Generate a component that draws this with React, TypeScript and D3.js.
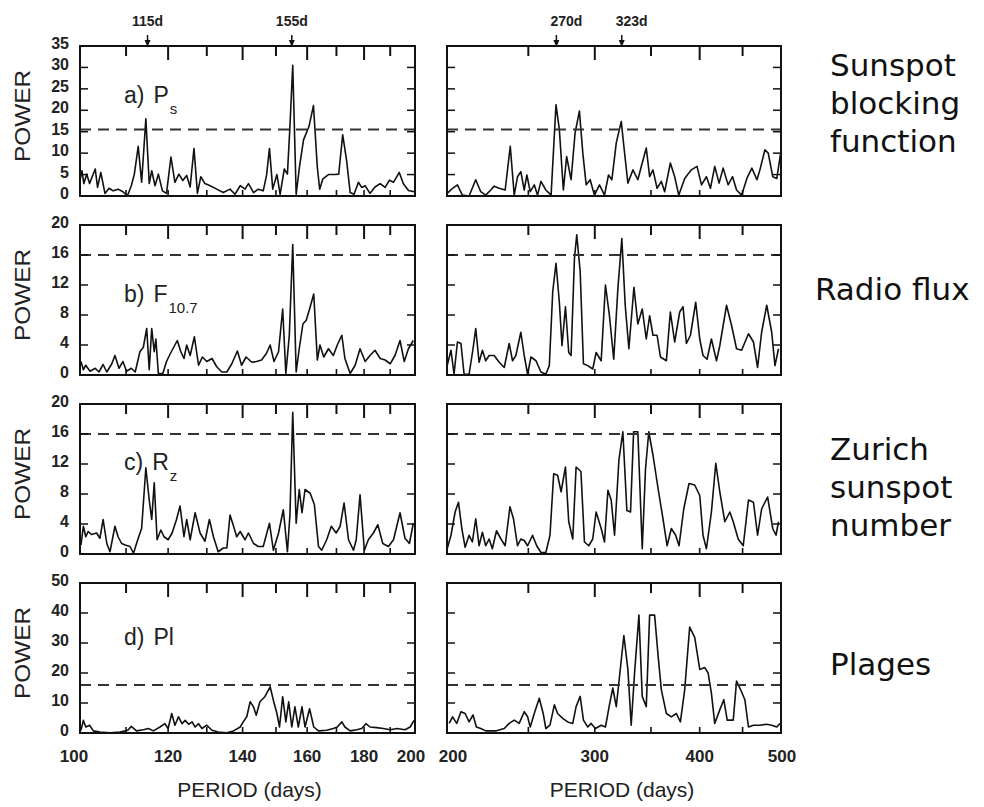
import React from 'react';
import * as d3 from 'd3';

// ---------- DATA (period in days, power) ----------
const psShort: [number, number][] = [[100.0,3.6],[100.4,5.9],[100.8,2.9],[101.4,5.1],[102.0,2.9],[103.2,6.3],[103.7,2.0],[104.4,5.5],[105.3,0.6],[106.2,1.8],[107.1,1.2],[108.2,1.6],[109.3,1.0],[110.3,0],[111.2,2.4],[111.9,5.1],[112.8,11.6],[113.6,3.2],[114.6,18.0],[115.4,2.9],[116.0,5.9],[116.8,2.4],[117.6,5.1],[118.6,1.2],[119.6,0.6],[120.7,9.1],[121.7,3.2],[122.7,5.1],[123.7,3.6],[124.7,4.8],[125.6,2.1],[126.6,11.1],[127.5,0.6],[128.4,4.5],[129.5,2.9],[130.9,2.4],[132.7,1.6],[134.5,0.8],[136.4,1.6],[137.8,0.4],[139.3,2.4],[140.7,1.6],[141.7,2.9],[143.2,0.8],[144.6,1.6],[146.1,1.2],[147.1,4.8],[148.0,11.1],[149.0,1.6],[150.3,5.0],[151.3,0.4],[152.6,6.3],[153.6,5.1],[154.4,16.2],[155.3,30.5],[156.4,0.4],[157.5,6.9],[158.8,13.1],[160.6,16.2],[162.1,21.1],[163.4,6.7],[164.2,1.6],[165.3,4.0],[167.2,5.0],[169.5,5.0],[170.8,5.1],[172.2,14.3],[173.6,8.3],[174.9,0.8],[176.3,0.4],[177.9,3.2],[179.1,2.0],[180.4,2.4],[182.2,0.6],[184.1,2.1],[186.1,2.9],[188.0,2.0],[189.7,3.7],[191.3,3.2],[193.6,5.5],[195.2,2.9],[197.3,1.3],[199.7,1.0]];

const psLong: [number, number][] = [[200.1,0.6],[203.1,1.8],[205.8,2.6],[208.6,0.2],[212.5,0],[216.4,3.8],[219.4,1.0],[222.4,0.2],[225.5,1.4],[227.6,2.3],[230.8,1.8],[234.6,1.4],[237.9,11.6],[240.5,0.2],[242.7,4.5],[244.9,5.7],[247.2,1.4],[249.0,4.9],[251.3,1.0],[254.1,2.6],[256.4,0.2],[258.8,3.4],[262.3,1.4],[266.1,0.2],[269.7,21.3],[272.2,15.5],[275.2,1.4],[277.7,9.2],[281.1,3.8],[284.2,14.7],[287.6,19.8],[290.3,10.0],[293.0,2.6],[296.2,3.8],[299.7,0.2],[303.9,2.6],[308.1,0.2],[311.5,4.9],[314.4,3.8],[318.2,12.4],[322.6,17.4],[324.9,11.6],[328.5,3.0],[333.1,6.1],[337.6,3.8],[340.8,6.9],[345.5,11.2],[348.7,4.5],[351.9,6.1],[355.9,1.8],[360.1,3.4],[363.4,1.0],[369.1,7.7],[373.5,4.5],[377.7,0.2],[383.9,4.1],[391.0,6.1],[397.1,6.9],[402.0,2.6],[407.5,4.5],[412.0,1.8],[416.9,6.9],[421.9,3.0],[426.6,6.5],[432.5,2.6],[437.8,4.5],[442.6,1.4],[448.8,0.2],[455.3,4.1],[461.6,6.5],[468.1,3.8],[471.9,6.1],[478.4,10.8],[482.8,10.0],[488.8,4.5],[494.3,4.1],[499.5,10.0]];

const fShort: [number, number][] = [[100.2,1.8],[100.7,0.7],[101.2,1.3],[102.1,0.5],[103.2,0.9],[104.0,0.4],[104.9,1.4],[105.7,0.4],[106.8,1.5],[107.5,2.6],[108.4,0.9],[109.3,1.8],[110.1,0.5],[111.2,0.9],[112.1,0.4],[113.2,3.1],[114.0,3.7],[114.8,6.2],[115.4,0.7],[116.0,6.2],[116.6,3.1],[117.0,4.8],[117.6,0.2],[118.7,0.2],[119.6,1.8],[120.6,2.9],[122.3,4.6],[123.2,3.1],[124.0,2.2],[124.7,4.0],[125.6,2.6],[126.7,5.1],[127.8,1.3],[128.8,2.4],[130.0,1.8],[131.4,2.2],[132.7,1.1],[134.1,0.4],[135.5,0.4],[136.9,1.5],[138.5,3.2],[139.7,1.3],[141.0,2.4],[142.7,1.7],[144.1,1.8],[145.6,2.0],[147.1,2.9],[148.2,4.0],[149.4,1.8],[150.8,3.1],[152.1,8.8],[153.1,0.2],[154.2,5.3],[155.3,17.4],[156.4,0.4],[157.4,3.5],[158.6,6.8],[159.7,7.3],[160.8,8.8],[162.2,10.8],[163.4,2.0],[164.3,4.0],[165.6,2.4],[167.2,3.5],[168.9,2.6],[170.3,4.0],[171.9,5.3],[173.0,2.2],[174.9,0.2],[176.7,1.3],[178.5,3.5],[180.4,1.8],[182.2,2.6],[184.1,3.3],[186.1,2.2],[188.0,2.0],[190.0,1.5],[191.9,2.6],[193.9,4.6],[195.6,1.8],[197.3,3.5],[199.3,4.6]];

const fLong: [number, number][] = [[200.1,1.25],[202.2,3.3],[203.9,0.1],[205.8,4.4],[207.8,4.2],[209.6,0.1],[212.5,0.1],[214.8,3.5],[216.4,6.2],[218.4,1.7],[220.4,3.3],[222.4,1.9],[224.5,2.6],[227.6,2.6],[230.8,1.7],[234.0,1.0],[237.2,4.2],[239.4,1.9],[241.6,2.6],[244.9,5.7],[247.2,2.6],[249.5,0.1],[251.8,2.4],[255.3,1.9],[258.8,0.4],[262.3,0.1],[264.8,1.25],[267.3,11.1],[269.7,14.9],[272.2,9.7],[274.2,3.9],[276.8,9.1],[279.3,3.0],[281.1,2.6],[283.7,15.5],[285.5,18.7],[288.2,13.8],[290.8,1.5],[294.3,1.25],[298.3,0.8],[301.1,3.0],[305.3,1.9],[308.9,12.0],[312.3,7.9],[316.0,2.1],[319.6,11.5],[323.1,18.2],[326.1,9.3],[329.4,3.5],[334.0,11.7],[337.6,6.8],[341.7,8.8],[345.5,4.8],[348.7,7.9],[351.9,5.3],[355.9,5.3],[359.2,2.4],[365.1,1.9],[369.1,8.4],[373.5,4.4],[378.7,8.4],[382.2,9.1],[385.7,4.2],[390.0,5.3],[395.7,9.7],[400.1,4.8],[403.7,2.6],[408.2,2.1],[413.1,4.8],[418.9,1.9],[422.7,3.9],[430.6,9.3],[436.6,6.6],[442.6,3.5],[448.8,3.3],[457.3,5.5],[463.6,4.4],[468.9,1.0],[474.1,5.7],[480.8,9.3],[487.4,5.7],[491.8,1.25],[496.6,3.5]];

const rShort: [number, number][] = [[100.2,1.2],[100.7,3.7],[101.2,2.3],[101.7,3.0],[102.4,2.6],[103.5,2.8],[104.2,2.1],[104.9,4.6],[105.7,1.4],[106.4,0.3],[107.5,3.7],[108.2,2.3],[109.0,1.4],[109.8,1.2],[110.9,1.0],[111.7,0.1],[112.8,2.1],[113.6,3.4],[114.6,11.5],[115.4,7.2],[116.0,4.6],[116.6,9.5],[117.3,1.9],[118.2,3.2],[119.0,2.3],[120.0,1.9],[121.0,2.8],[122.1,4.6],[123.0,6.4],[124.0,2.3],[124.7,4.6],[125.6,1.9],[126.9,5.5],[128.2,2.8],[129.5,1.7],[130.7,4.6],[131.8,2.3],[133.1,0.3],[134.5,0.8],[135.5,0.8],[136.4,5.2],[137.4,3.7],[138.3,2.3],[139.3,3.0],[140.7,1.9],[141.7,2.8],[143.2,1.4],[144.6,1.0],[146.1,1.0],[148.0,4.1],[149.2,0.5],[150.8,2.8],[152.3,5.9],[153.6,0.3],[154.4,5.2],[155.3,18.9],[156.4,4.1],[157.4,8.6],[158.3,5.5],[159.3,8.6],[161.0,8.1],[162.4,6.6],[163.8,1.0],[164.9,0.5],[166.6,1.9],[168.2,3.7],[169.9,2.8],[171.3,3.7],[172.7,6.8],[174.3,1.9],[176.1,0.5],[177.1,1.9],[178.5,7.9],[180.1,0.5],[181.6,1.9],[183.5,2.8],[185.2,3.9],[187.1,1.4],[189.3,1.0],[191.3,1.9],[193.9,5.5],[195.9,2.1],[197.7,1.4],[199.3,4.1]];

const rLong: [number, number][] = [[200.1,0.7],[202.2,2.5],[204.5,5.6],[206.4,6.9],[208.3,3.4],[210.2,0.9],[212.5,2.5],[214.4,1.6],[216.4,4.7],[218.4,1.1],[220.4,2.9],[222.4,1.1],[224.5,2.0],[226.5,0.7],[229.1,3.1],[231.9,2.0],[234.6,1.1],[237.7,6.3],[240.0,4.7],[242.7,1.1],[244.9,2.0],[247.2,1.8],[249.5,1.1],[252.9,2.5],[255.8,1.1],[258.8,0.2],[262.3,0.2],[265.3,2.5],[268.0,10.7],[270.9,10.5],[273.5,8.3],[276.8,11.6],[279.3,4.3],[282.4,2.0],[285.0,11.6],[288.8,11.0],[291.6,1.6],[295.1,1.1],[298.3,2.0],[301.1,5.6],[305.3,3.4],[308.1,1.6],[311.0,8.5],[313.8,7.2],[316.7,2.5],[320.5,12.5],[324.0,16.3],[327.6,5.8],[330.9,5.6],[333.7,16.3],[337.6,16.3],[341.7,0.7],[344.8,11.4],[347.9,16.3],[351.9,13.2],[356.9,8.7],[361.7,4.7],[365.8,1.1],[370.1,3.4],[374.5,2.5],[378.0,1.1],[382.9,6.0],[388.5,9.4],[394.6,9.2],[400.1,7.8],[403.7,2.5],[407.5,0.7],[413.1,5.6],[418.1,12.1],[422.7,8.3],[428.6,4.3],[434.5,5.6],[438.6,4.3],[444.6,2.0],[450.8,1.1],[457.3,7.2],[463.6,6.9],[468.9,2.5],[474.1,6.0],[482.0,7.6],[488.8,3.4],[493.2,2.5],[496.6,4.3]];

const plShort: [number, number][] = [[100.2,0.9],[100.7,4.2],[101.2,2.0],[102.0,2.6],[102.8,0.7],[104.2,0.3],[106.4,0.1],[108.6,0.3],[110.4,0.9],[111.2,2.2],[112.4,0.7],[114.0,1.1],[115.2,1.5],[116.4,0.7],[118.0,2.0],[119.2,3.1],[120.0,1.5],[120.9,6.5],[121.7,2.6],[122.6,5.4],[123.5,3.1],[124.3,4.2],[125.2,2.9],[126.1,3.7],[126.9,2.0],[127.8,3.1],[128.7,1.5],[130.0,2.6],[131.4,0.9],[133.1,0.3],[135.5,0.1],[137.4,0.7],[139.3,2.0],[140.2,3.7],[141.2,5.4],[142.2,10.4],[143.2,8.7],[144.0,5.9],[145.1,10.4],[146.6,12.1],[148.2,15.4],[149.2,10.9],[150.3,6.5],[151.1,2.0],[152.1,12.1],[153.1,3.7],[154.0,10.4],[155.0,2.0],[156.0,8.7],[157.1,2.0],[158.3,8.7],[159.3,2.0],[160.8,8.1],[162.2,2.0],[163.8,0.7],[166.6,0.9],[168.9,1.5],[170.3,2.0],[171.9,3.7],[173.0,2.0],[174.9,0.7],[177.3,1.1],[179.1,1.5],[180.7,3.1],[182.2,2.0],[184.7,1.8],[187.3,1.5],[190.0,1.1],[192.7,1.5],[195.9,1.1],[198.0,2.0],[199.6,4.2]];

const plLong: [number, number][] = [[201.2,3.2],[203.1,5.4],[205.4,3.2],[207.8,7.1],[210.2,6.5],[212.5,3.7],[214.8,6.0],[216.8,2.0],[219.4,1.5],[222.4,0.7],[228.6,0.7],[234.0,1.5],[237.2,3.2],[240.5,4.3],[243.8,3.2],[247.2,7.1],[249.5,5.4],[251.3,2.0],[254.1,6.5],[257.6,11.6],[260.4,6.5],[262.3,1.5],[265.3,2.6],[268.5,9.4],[270.9,6.5],[274.7,4.9],[278.5,3.7],[282.4,3.2],[285.0,8.8],[288.2,12.2],[290.8,4.3],[294.3,2.0],[297.0,3.2],[300.5,1.5],[305.3,2.6],[308.9,2.0],[312.3,9.4],[315.2,15.0],[318.2,8.8],[321.1,19.0],[324.9,32.5],[328.5,21.2],[331.5,2.6],[334.6,20.1],[338.6,39.3],[341.7,12.2],[345.5,8.8],[348.7,39.3],[353.5,39.3],[356.9,25.7],[360.1,14.4],[365.1,6.5],[370.1,5.4],[375.2,6.5],[379.4,3.7],[383.9,14.4],[389.2,35.3],[394.6,31.9],[400.1,21.2],[405.6,21.8],[409.3,20.1],[413.1,13.3],[416.9,3.2],[422.7,7.7],[427.4,11.1],[431.4,4.3],[438.6,4.3],[442.6,17.3],[447.6,14.4],[452.8,11.1],[457.3,2.0],[463.6,2.6],[471.9,2.6],[480.8,2.9],[487.4,2.6],[494.3,2.0],[498.5,3.2]];

const shortSeries = [psShort, fShort, rShort, plShort];
const longSeries = [psLong, fLong, rLong, plLong];
const yMaxes = [35, 20, 20, 50];
const ySteps = [5, 4, 4, 10];
const thresholds = [15.5, 16, 16, 16];
const shortDomain = [100, 200];
const longDomain = [200, 500];
const shortTicks = [110, 120, 130, 140, 150, 160, 170, 180, 190];
const longTicks = [250, 300, 350, 400, 450];
const shortMajor = [120, 140, 160, 180];
const longMajor = [300, 400];
const shortTickLabels = [100, 120, 140, 160, 180, 200];
const longTickLabels = [200, 300, 400, 500];
const shortMarkers = [115, 155];
const longMarkers = [270, 323];
const panelTags = [['a)', 'P', 's'], ['b)', 'F', '10.7'], ['c)', 'R', 'z'], ['d)', 'Pl', '']];
const sideLabels = [['Sunspot', 'blocking', 'function'], ['Radio flux'], ['Zurich', 'sunspot', 'number'], ['Plages']];

// ---------- LAYOUT ----------
const W = 984, H = 807;
const LEFT_RANGE = [80, 415];
const RIGHT_RANGE = [447, 781];
const PANEL_TOPS = [46, 225, 404, 583];
const PANEL_H = 150;
const TAG_BASE = [57, 77, 66, 62];
const SIDE_X = [830, 815, 830, 830];
const SIDE_Y0 = [76, 300, 460, 675];
const SIDE_DY = 38;

const NUMF = "'Liberation Sans', Arial, sans-serif";
const SANS = "'Liberation Sans', Arial, sans-serif";

function Panel({ data, domain, range, top, yMax, yStep, thr, ticks, major, showYLabels }: any) {
  const x = d3.scaleLog().domain(domain).range(range);
  const y = d3.scaleLinear().domain([0, yMax]).range([top + PANEL_H, top]);
  const line = d3.line<[number, number]>().x(d => x(d[0])).y(d => y(d[1]));
  const yTicks = d3.range(0, yMax + 0.001, yStep);
  const [x0, x1] = range;
  return (
    <g>
      <path d={line(data) || ''} fill="none" stroke="#111" strokeWidth={1.6} strokeLinejoin="round" />
      <line x1={x0} x2={x1} y1={y(thr)} y2={y(thr)} stroke="#333" strokeWidth={2} strokeDasharray="11,7" />
      {yTicks.filter(v => v > 0 && v < yMax).map(v => (
        <g key={'yt' + v}>
          <line x1={x0} x2={x0 + 8} y1={y(v)} y2={y(v)} stroke="#111" strokeWidth={1.5} />
          <line x1={x1 - 8} x2={x1} y1={y(v)} y2={y(v)} stroke="#111" strokeWidth={1.5} />
        </g>
      ))}
      {ticks.map((t: number) => {
        const len = major.includes(t) ? 14 : 10;
        return (
          <g key={'xt' + t}>
            <line x1={x(t)} x2={x(t)} y1={top} y2={top + len} stroke="#111" strokeWidth={2} />
            <line x1={x(t)} x2={x(t)} y1={top + PANEL_H} y2={top + PANEL_H - 6} stroke="#111" strokeWidth={1.6} />
          </g>
        );
      })}
      <rect x={x0} y={top} width={x1 - x0} height={PANEL_H} fill="none" stroke="#111" strokeWidth={2} />
      {showYLabels && yTicks.map(v => (
        <text key={'yl' + v} x={x0 - 11} y={y(v) + 3} textAnchor="end" fontFamily={NUMF}
          fontWeight="bold" fontSize={16} fill="#222">{v}</text>
      ))}
    </g>
  );
}

export default function App() {
  const xs = d3.scaleLog().domain(shortDomain).range(LEFT_RANGE);
  const xl = d3.scaleLog().domain(longDomain).range(RIGHT_RANGE);
  const bottom = PANEL_TOPS[3] + PANEL_H;
  const arrow = (px: number, key: string) => (
    <g key={key}>
      <line x1={px} x2={px} y1={35} y2={44} stroke="#111" strokeWidth={1.5} />
      <path d={`M${px - 3},${40} L${px + 3},${40} L${px},${47} Z`} fill="#111" />
    </g>
  );
  const edgeShift = (t: number, dom: number[], lo: number, hi: number) =>
    t === dom[0] ? lo : t === dom[1] ? hi : 0;
  return (
    <svg width={W} height={H} style={{ position: 'absolute', left: 0, top: 0, background: '#fff' }}>
      <rect x={0} y={0} width={W} height={H} fill="#fff" />
      {PANEL_TOPS.map((top, i) => (
        <g key={'p' + i}>
          <Panel data={shortSeries[i]} domain={shortDomain} range={LEFT_RANGE} top={top} yMax={yMaxes[i]}
            yStep={ySteps[i]} thr={thresholds[i]} ticks={shortTicks} major={shortMajor} showYLabels />
          <Panel data={longSeries[i]} domain={longDomain} range={RIGHT_RANGE} top={top} yMax={yMaxes[i]}
            yStep={ySteps[i]} thr={thresholds[i]} ticks={longTicks} major={longMajor} showYLabels={false} />
          <text transform={`translate(30,${top + PANEL_H / 2 - 5}) rotate(-90)`} textAnchor="middle"
            fontFamily={SANS} fontSize={22} textLength={92} lengthAdjust="spacingAndGlyphs" fill="#222">POWER</text>
          <text x={124} y={top + TAG_BASE[i]} fontFamily={SANS} fontSize={23} fill="#222">
            {panelTags[i][0]}
            <tspan dx={9}>{panelTags[i][1]}</tspan>
            {panelTags[i][2] && <tspan dx={1} dy={11} fontSize={15}>{panelTags[i][2]}</tspan>}
          </text>
          {sideLabels[i].map((s, j) => (
            <text key={s} x={SIDE_X[i]} y={SIDE_Y0[i] + j * SIDE_DY} fontFamily="'DejaVu Sans', sans-serif"
              fontSize={31} fill="#111">{s}</text>
          ))}
        </g>
      ))}
      {shortMarkers.map(m => (
        <g key={'ms' + m}>
          {arrow(xs(m), 'as' + m)}
          <text x={xs(m)} y={26} textAnchor="middle" fontFamily={NUMF} fontWeight="bold" fontSize={14} fill="#222">{m}d</text>
        </g>
      ))}
      {longMarkers.map(m => (
        <g key={'ml' + m}>
          {arrow(xl(m), 'al' + m)}
          <text x={xl(m) + 10} y={26} textAnchor="middle" fontFamily={NUMF} fontWeight="bold" fontSize={14} fill="#222">{m}d</text>
        </g>
      ))}
      {shortTickLabels.map(t => (
        <text key={'sl' + t} x={xs(t) + edgeShift(t, shortDomain, -6, -4)} y={bottom + 29} textAnchor="middle" fontFamily={NUMF}
          fontWeight="bold" fontSize={17} fill="#222">{t}</text>
      ))}
      {longTickLabels.map(t => (
        <text key={'ll' + t} x={xl(t) + edgeShift(t, longDomain, 6, 1)} y={bottom + 29} textAnchor="middle" fontFamily={NUMF}
          fontWeight="bold" fontSize={17} fill="#222">{t}</text>
      ))}
      <text x={(LEFT_RANGE[0] + LEFT_RANGE[1]) / 2 + 2} y={bottom + 64} textAnchor="middle" fontFamily={SANS}
        fontSize={21} fill="#222">PERIOD (days)</text>
      <text x={(RIGHT_RANGE[0] + RIGHT_RANGE[1]) / 2 + 8} y={bottom + 64} textAnchor="middle" fontFamily={SANS}
        fontSize={21} fill="#222">PERIOD (days)</text>
    </svg>
  );
}
